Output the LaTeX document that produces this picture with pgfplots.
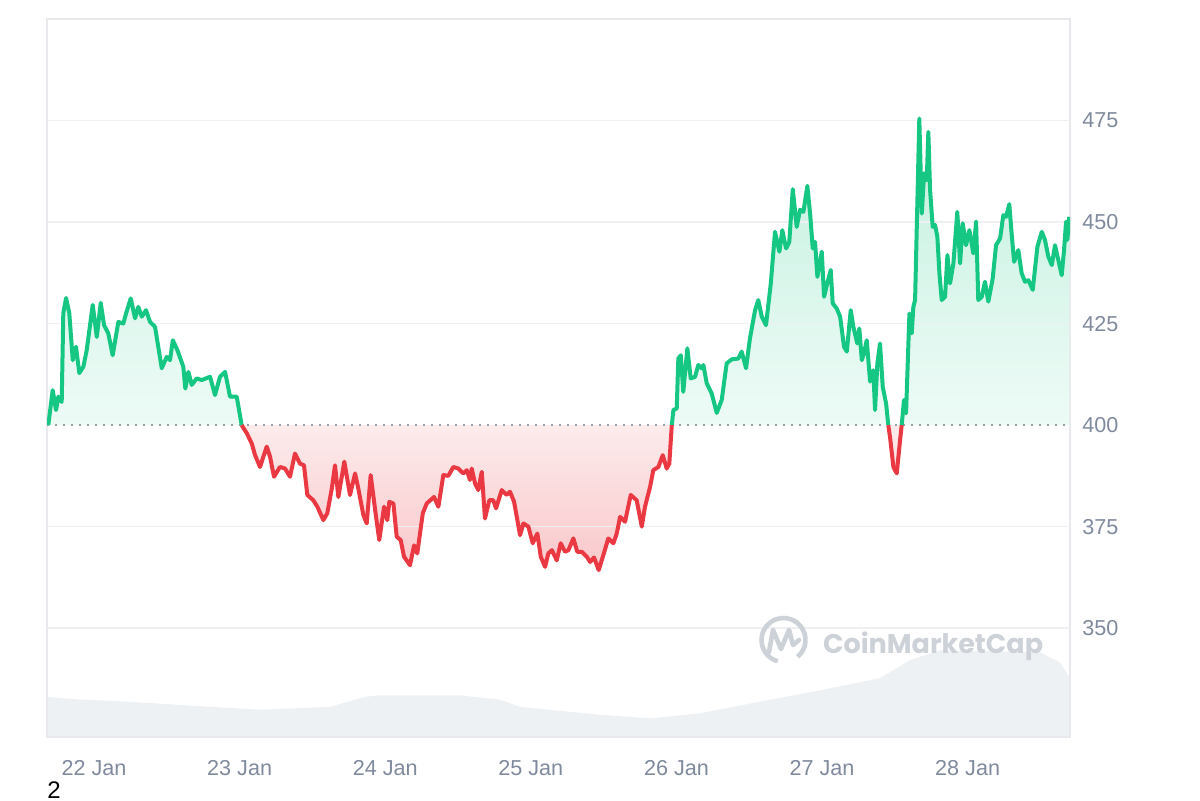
\documentclass[border=0pt]{standalone}
\usepackage{pgfplots}
\pgfplotsset{compat=1.18}
\usepackage{pgfplotstable}
\usepackage{fontspec}
\setmainfont{Liberation Sans}
\newfontfamily\cmcfont{Poppins}
\definecolor{cmcgreen}{HTML}{16C784}
\definecolor{cmcred}{HTML}{EA3943}
\definecolor{ticklab}{HTML}{808A9D}
\definecolor{gridc}{HTML}{EEF0F3}
\definecolor{framec}{HTML}{E8E9EC}
\definecolor{volc}{HTML}{EEF1F4}
\definecolor{wmark}{HTML}{CDD1D8}
\definecolor{dotc}{HTML}{9AA0AA}

% price; the last row closes the area back to the 400 baseline
\pgfplotstableread{
day price
-0.314 400.0
-0.284 408.6
-0.261 403.7
-0.245 407.0
-0.222 405.7
-0.211 427.6
-0.192 431.3
-0.170 427.6
-0.146 416.0
-0.124 419.3
-0.101 412.8
-0.073 414.4
-0.050 418.5
-0.009 429.6
0.019 421.7
0.046 430.1
0.069 424.6
0.098 422.6
0.128 417.2
0.167 425.4
0.201 425.0
0.220 427.5
0.252 431.2
0.282 426.3
0.304 429.1
0.328 426.7
0.357 428.3
0.385 425.4
0.419 424.2
0.465 414.0
0.499 416.8
0.522 416.0
0.541 420.9
0.572 418.5
0.613 414.4
0.627 409.0
0.648 413.1
0.671 409.9
0.705 411.5
0.740 411.1
0.797 411.9
0.831 407.4
0.865 411.9
0.900 413.1
0.934 407.0
0.980 407.0
1.014 400.0
1.049 398.0
1.083 395.5
1.106 392.6
1.140 389.7
1.186 394.7
1.209 392.2
1.236 387.3
1.277 389.7
1.312 389.3
1.346 387.3
1.380 393.0
1.415 390.5
1.442 390.1
1.465 382.8
1.506 381.5
1.534 379.9
1.575 376.6
1.602 378.3
1.633 384.4
1.655 390.1
1.678 382.3
1.719 391.0
1.758 382.8
1.793 388.1
1.815 384.4
1.850 377.8
1.873 375.8
1.900 387.7
1.937 377.4
1.959 371.7
1.992 379.9
2.014 376.6
2.028 381.1
2.056 380.7
2.079 372.5
2.106 371.7
2.129 367.6
2.170 365.5
2.198 370.4
2.220 368.4
2.258 378.3
2.285 380.7
2.335 382.3
2.365 379.9
2.399 387.7
2.433 387.5
2.468 389.7
2.502 389.3
2.536 388.1
2.560 388.9
2.582 386.5
2.594 389.3
2.617 385.6
2.639 384.0
2.663 388.5
2.685 377.0
2.715 381.5
2.742 381.5
2.761 379.5
2.800 384.0
2.834 382.8
2.857 383.6
2.885 381.1
2.926 372.9
2.949 375.8
2.983 375.0
3.013 370.9
3.045 373.3
3.068 367.6
3.098 365.1
3.120 368.4
3.144 369.2
3.178 366.7
3.205 370.9
3.235 368.8
3.258 369.2
3.292 372.1
3.319 368.8
3.350 368.8
3.384 367.6
3.407 366.3
3.434 367.4
3.466 364.3
3.498 368.0
3.532 372.1
3.567 370.9
3.590 373.3
3.613 377.4
3.647 376.2
3.686 382.8
3.727 381.5
3.762 375.0
3.784 379.9
3.819 384.8
3.841 388.9
3.876 389.7
3.906 392.6
3.933 389.3
3.951 390.5
3.968 400.0
3.979 403.7
4.002 404.1
4.013 416.4
4.030 417.2
4.047 408.2
4.075 418.9
4.098 411.5
4.128 411.9
4.150 414.8
4.174 414.0
4.185 414.8
4.208 410.3
4.242 407.8
4.277 403.0
4.311 406.2
4.345 415.2
4.380 416.2
4.425 416.4
4.448 418.1
4.478 414.0
4.505 421.4
4.540 428.3
4.562 430.8
4.586 426.7
4.615 424.6
4.648 434.9
4.677 447.6
4.707 442.7
4.727 448.0
4.753 443.5
4.775 445.1
4.799 458.1
4.826 448.8
4.849 453.0
4.872 452.5
4.899 458.9
4.918 452.1
4.936 443.5
4.952 445.1
4.968 436.5
4.998 442.7
5.014 431.6
5.036 434.9
5.060 438.2
5.073 430.0
5.101 428.7
5.124 426.7
5.151 419.3
5.170 418.1
5.197 428.3
5.215 424.2
5.242 420.1
5.256 423.8
5.273 416.0
5.288 417.7
5.307 420.9
5.330 410.7
5.352 413.5
5.364 403.7
5.380 415.2
5.398 420.1
5.417 409.4
5.440 405.3
5.455 400.0
5.467 397.0
5.490 389.7
5.513 388.1
5.536 396.3
5.547 400.0
5.563 406.2
5.577 402.9
5.600 427.5
5.616 422.6
5.627 429.1
5.639 430.8
5.655 455.4
5.668 475.5
5.685 452.1
5.701 462.0
5.719 460.3
5.730 472.2
5.742 457.9
5.760 448.8
5.776 449.3
5.792 446.4
5.806 437.4
5.822 430.8
5.845 431.6
5.861 441.9
5.879 434.9
5.902 439.8
5.929 452.5
5.948 439.8
5.966 449.7
5.989 444.3
6.012 448.0
6.039 442.3
6.058 450.1
6.073 430.8
6.097 431.6
6.119 435.3
6.142 430.4
6.172 436.1
6.195 444.3
6.223 446.0
6.245 451.7
6.264 451.3
6.286 454.4
6.302 447.2
6.319 440.2
6.348 443.1
6.371 437.4
6.394 435.3
6.417 435.7
6.447 433.3
6.479 443.9
6.509 447.6
6.531 445.6
6.554 441.5
6.578 439.4
6.600 444.3
6.623 440.6
6.646 436.9
6.662 443.1
6.676 450.1
6.685 445.6
6.698 451.3
6.6985 400.0
}\pricedata

\pgfplotstableread{
day vol
-0.323 5.6
-0.165 5.3
0.247 4.9
0.728 4.3
1.140 3.8
1.621 4.2
1.861 5.6
1.964 5.8
2.514 5.8
2.788 5.2
2.926 4.2
3.475 3.1
3.819 2.6
4.162 3.3
4.643 5.2
4.986 6.5
5.398 8.2
5.604 10.7
5.810 12.1
6.497 11.8
6.635 10.4
6.703 8.2
}\voldata

\begin{document}
\begin{tikzpicture}
\path (0pt,0pt) rectangle (600pt,400pt);
% volume
\begin{axis}[at={(23.5pt,31.5pt)}, anchor=south west, scale only axis,
  width=511.5pt, height=359pt, xmin=-0.323, xmax=6.703, ymin=0, ymax=100, hide axis]
\addplot[draw=none, fill=volc] table[x=day,y=vol]{\voldata} \closedcycle;
\end{axis}
% price
\begin{axis}[at={(23.5pt,31.5pt)}, anchor=south west, scale only axis,
  width=511.5pt, height=359pt,
  xmin=-0.323, xmax=6.703, ymin=323.2, ymax=500,
  axis line style={framec, line width=0.75pt},
  ytick={350,375,400,425,450,475},
  yticklabel pos=right,
  xtick={0,1,2,3,4,5,6},
  xticklabels={22 Jan,23 Jan,24 Jan,25 Jan,26 Jan,27 Jan,28 Jan},
  major tick length=0pt, tick style={draw=none},
  ticklabel style={font=\fontsize{10.8}{12}\selectfont, text=ticklab},
  yticklabel style={anchor=west, inner sep=0pt, xshift=6pt},
  xticklabel style={anchor=north, inner sep=0pt, yshift=-11.5pt},
  /pgf/number format/assume math mode=true]
% green area (above 400)
\begin{scope}
\clip (axis cs:-0.4,400) rectangle (axis cs:6.8,490);
\addplot[draw=none, top color=cmcgreen!27!white, bottom color=white, middle color=cmcgreen!12!white] table[x=day,y=price]{\pricedata};
\end{scope}
% red area (below 400)
\begin{scope}
\clip (axis cs:-0.4,330) rectangle (axis cs:6.8,400);
\addplot[draw=none, top color=white, bottom color=cmcred!28!white, middle color=white] table[x=day,y=price]{\pricedata};
\end{scope}
% grid lines
\foreach \g in {350,375,425,450,475} {
  \edef\tmp{\noexpand\draw[gridc, line width=0.75pt] (axis cs:-0.323,\g) -- (axis cs:6.703,\g);}\tmp
}
\draw[dotc, line width=1.1pt, dash pattern=on 1.1pt off 2.9pt] (axis cs:-0.323,400) -- (axis cs:6.703,400);
\addplot[cmcgreen, line width=2pt, line join=round, restrict x to domain=-1:1.0145] table[x=day,y=price]{\pricedata};
\addplot[cmcgreen, line width=2pt, line join=round, restrict x to domain=3.9675:5.4555] table[x=day,y=price]{\pricedata};
\addplot[cmcgreen, line width=2pt, line join=round, restrict x to domain=5.5465:6.6982] table[x=day,y=price]{\pricedata};
\addplot[cmcred, line width=2pt, line join=round, restrict x to domain=1.0135:3.9685] table[x=day,y=price]{\pricedata};
\addplot[cmcred, line width=2pt, line join=round, restrict x to domain=5.4545:5.5475] table[x=day,y=price]{\pricedata};
\end{axis}
% watermark
\draw[wmark, line width=2.3pt] (391.75pt,80pt) ++(-50:11pt) arc[start angle=-50, end angle=255, radius=11pt];
\draw[wmark, line width=2.3pt, line join=round, line cap=round] (384.5pt,74pt) -- (386.5pt,85pt) -- (390.5pt,75.5pt) -- (394.5pt,85pt) -- (396.5pt,77.5pt) -- (399.5pt,80pt);
\node[anchor=base west, inner sep=0pt, text=wmark, font=\cmcfont\bfseries\fontsize{13.5}{14}\selectfont] at (411.3pt,73.5pt) {CoinMarketCap};
\node[anchor=base west, inner sep=0pt, font=\fontsize{12}{12}\selectfont] at (23.5pt,1pt) {2};
\end{tikzpicture}
\end{document}
